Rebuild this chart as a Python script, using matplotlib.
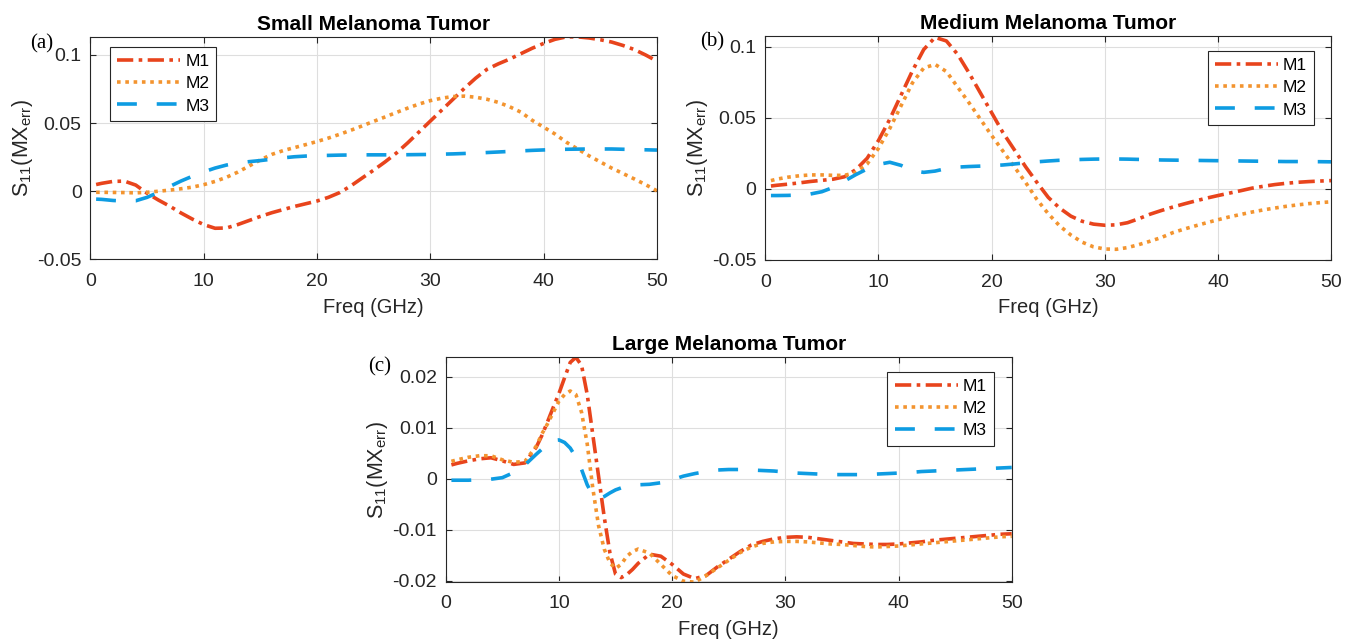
import numpy as np
import matplotlib
matplotlib.use('Agg')
import matplotlib.pyplot as plt
from matplotlib.ticker import FuncFormatter

plt.rcParams['font.family'] = ['Liberation Sans', 'DejaVu Sans']
plt.rcParams['mathtext.fontset'] = 'custom'
plt.rcParams['mathtext.rm'] = 'Liberation Sans'
plt.rcParams['mathtext.it'] = 'Liberation Sans'

# frequency points (GHz)
freq_ab = [0.5] + list(range(1, 51))
freq_c = [0.5, 1, 2, 3, 4, 5, 6, 7, 8, 8.5, 9, 9.5, 10, 10.5, 11, 11.5, 12, 12.5,
          13, 13.5, 14, 14.5, 15, 15.5, 16, 16.5] + list(range(17, 51))

# (a) small tumor
small_m1 = [0.0049, 0.0058, 0.0072, 0.0074, 0.0045, -0.0015, -0.0065, -0.011, -0.016, -0.0205,
            -0.0245, -0.0272, -0.027, -0.0245, -0.0215, -0.0185, -0.0158, -0.0135, -0.0112, -0.0092,
            -0.0072, -0.0045, -0.001, 0.004, 0.0098, 0.0155, 0.0215, 0.028, 0.0355, 0.0435,
            0.0515, 0.0595, 0.0675, 0.0755, 0.083, 0.0895, 0.0935, 0.097, 0.101, 0.105,
            0.1085, 0.1115, 0.1133, 0.1133, 0.1125, 0.1112, 0.1095, 0.107, 0.104, 0.1, 0.0955]
small_m2 = [-0.0008, -0.0008, -0.0009, -0.001, -0.0012, -0.0008, 0.0, 0.0008, 0.0018, 0.003,
            0.0048, 0.0072, 0.0102, 0.014, 0.0185, 0.023, 0.027, 0.0298, 0.032, 0.0342,
            0.0365, 0.039, 0.0418, 0.0448, 0.048, 0.0513, 0.0545, 0.0578, 0.061, 0.064,
            0.0665, 0.0683, 0.0695, 0.0698, 0.069, 0.0675, 0.0652, 0.062, 0.058, 0.052,
            0.047, 0.042, 0.036, 0.031, 0.026, 0.0215, 0.017, 0.013, 0.009, 0.0048, 0.0003]
small_m3 = [-0.0058, -0.006, -0.0068, -0.0072, -0.007, -0.0045, -0.0008, 0.0035, 0.0075, 0.011,
            0.0142, 0.017, 0.0192, 0.0207, 0.0217, 0.0225, 0.0235, 0.0245, 0.0253, 0.0258,
            0.0262, 0.0263, 0.0265, 0.0266, 0.0267, 0.0267, 0.0267, 0.0267, 0.0268, 0.0269,
            0.027, 0.0272, 0.0274, 0.0277, 0.028, 0.0284, 0.0288, 0.0292, 0.0296, 0.03,
            0.0303, 0.0306, 0.0308, 0.0309, 0.031, 0.031, 0.031, 0.0308, 0.0306, 0.0304, 0.0302]

# (b) medium tumor
medium_m1 = [0.002, 0.0025, 0.0033, 0.0042, 0.0052, 0.006, 0.0068, 0.0085, 0.0135, 0.0215,
             0.034, 0.049, 0.066, 0.083, 0.098, 0.1065, 0.104, 0.0945, 0.0815, 0.0675,
             0.0535, 0.0395, 0.0275, 0.0155, 0.0045, -0.006, -0.0135, -0.0192, -0.0228, -0.0248,
             -0.0256, -0.0253, -0.0238, -0.021, -0.0178, -0.0152, -0.0128, -0.0106, -0.0085, -0.0065,
             -0.0047, -0.003, -0.0013, 0.0005, 0.0018, 0.003, 0.0039, 0.0046, 0.0051, 0.0055, 0.0058]
medium_m2 = [0.0058, 0.0068, 0.0082, 0.0092, 0.0098, 0.0098, 0.0095, 0.0095, 0.0115, 0.0175,
             0.0285, 0.0425, 0.0585, 0.0745, 0.085, 0.0875, 0.0825, 0.0715, 0.0605, 0.049,
             0.0375, 0.0265, 0.0155, 0.0045, -0.0075, -0.0175, -0.026, -0.0325, -0.0375, -0.0408,
             -0.0423, -0.0425, -0.0413, -0.0392, -0.0368, -0.0342, -0.0308, -0.0283, -0.026, -0.0238,
             -0.0217, -0.0197, -0.018, -0.0163, -0.0148, -0.0135, -0.0123, -0.0113, -0.0104, -0.0097, -0.0091]
medium_m3 = [-0.0047, -0.0047, -0.0046, -0.0043, -0.0036, -0.002, 0.001, 0.0055, 0.01, 0.014,
             0.0172, 0.0187, 0.0165, 0.0128, 0.0116, 0.0125, 0.0143, 0.0153, 0.0157, 0.016,
             0.0163, 0.0168, 0.0175, 0.0183, 0.019, 0.0196, 0.0201, 0.0204, 0.0207, 0.0209,
             0.021, 0.021, 0.0209, 0.0207, 0.0205, 0.0203, 0.0202, 0.0201, 0.02, 0.0199,
             0.0198, 0.0197, 0.0196, 0.0195, 0.0194, 0.0193, 0.0192, 0.0192, 0.0191, 0.0191, 0.019]

# (c) large tumor
large_m1 = [0.0027, 0.003, 0.0035, 0.0039, 0.0041, 0.0035, 0.0028, 0.0031, 0.0062, 0.0085,
            0.0112, 0.014, 0.0167, 0.0198, 0.0228, 0.0238, 0.0222, 0.0165, 0.0085, 0.0005,
            -0.0075, -0.0145, -0.0187, -0.0194, -0.0188, -0.0178, -0.0166, -0.0148, -0.0152, -0.0168,
            -0.0187, -0.0196, -0.019, -0.0173, -0.0158, -0.0143, -0.013, -0.0123, -0.0118, -0.0115,
            -0.0114, -0.0115, -0.0118, -0.0121, -0.0124, -0.0127, -0.0128, -0.0129, -0.0129, -0.0128,
            -0.0126, -0.0124, -0.0121, -0.0119, -0.0117, -0.0115, -0.0113, -0.0111, -0.0109, -0.0108]
large_m2 = [0.0034, 0.0037, 0.0042, 0.0045, 0.0045, 0.0037, 0.0032, 0.0034, 0.0064, 0.0088,
            0.0108, 0.013, 0.0152, 0.0165, 0.0172, 0.0165, 0.013, 0.0068, -0.002, -0.0092,
            -0.0138, -0.0165, -0.0176, -0.0168, -0.0152, -0.0143, -0.0138, -0.0146, -0.0168, -0.019,
            -0.0201, -0.0203, -0.019, -0.0175, -0.016, -0.0145, -0.0134, -0.0127, -0.0124, -0.0123,
            -0.0123, -0.0124, -0.0126, -0.0128, -0.0129, -0.0131, -0.0133, -0.0134, -0.0133, -0.0132,
            -0.013, -0.0128, -0.0126, -0.0124, -0.0122, -0.012, -0.0118, -0.0116, -0.0114, -0.0113]
large_m3 = [-0.0003, -0.0003, -0.0003, -0.0002, -0.0001, 0.0002, 0.0012, 0.0027, 0.0048, 0.0058,
            0.0068, 0.0075, 0.0076, 0.0071, 0.006, 0.0042, 0.0018, -0.0012, -0.0033, -0.0039,
            -0.0035, -0.0028, -0.0022, -0.0018, -0.0015, -0.0013, -0.0012, -0.0011, -0.0008, -0.0002,
            0.0005, 0.001, 0.0014, 0.0017, 0.0018, 0.0018, 0.0017, 0.0016, 0.0015, 0.0013,
            0.0011, 0.001, 0.0009, 0.0008, 0.0008, 0.0008, 0.0008, 0.0009, 0.001, 0.0011,
            0.0012, 0.0014, 0.0015, 0.0016, 0.0017, 0.0018, 0.0019, 0.002, 0.0021, 0.0022]

labels = ['M1', 'M2', 'M3']
colors = ['#E8441C', '#F3942F', '#0E9CE2']
dashes = [(4.5, 1.5, 1, 1.5), (1, 1.3), (5.5, 5.5)]


def draw_panel(fig, rect, freq, series, title, tag, tag_pos, ylim, yticks, legend_anchor, legend_loc):
    ax = fig.add_axes(rect)
    for vals, lab, col, dsh in zip(series, labels, colors, dashes):
        ax.plot(freq, vals, color=col, lw=2.6, dashes=dsh, label=lab)
    ax.set_xlim(0, 50)
    ax.set_ylim(*ylim)
    ax.set_xticks(range(0, 51, 10))
    ax.set_yticks(yticks)
    ax.yaxis.set_major_formatter(FuncFormatter(lambda v, p: '{:g}'.format(round(v, 4))))
    ax.grid(True, color='#dedede', lw=0.8)
    ax.set_axisbelow(True)
    ax.tick_params(direction='in', top=True, right=True, length=4, width=0.8,
                   labelsize=14, colors='#262626', pad=6.3)
    ax.tick_params(axis='x', pad=9.8)
    for sp in ax.spines.values():
        sp.set_color('#262626')
        sp.set_linewidth(0.8)
    ax.set_xlabel('Freq (GHz)', fontsize=14.5, color='#262626', labelpad=5.5)
    ax.set_ylabel(r'S$_{11}$(MX$_{\mathrm{err}}$)', fontsize=15.5, color='#262626', labelpad=1.5)
    ax.set_title(title, fontsize=15, fontweight='bold', pad=5)
    ax.text(tag_pos[0], tag_pos[1], tag, transform=ax.transAxes, fontsize=15,
            family='Liberation Serif', ha='left', va='center')
    leg = ax.legend(loc=legend_loc, bbox_to_anchor=legend_anchor, borderaxespad=0,
                    fontsize=12.5, handlelength=3.65, handletextpad=0.29, labelspacing=0.41,
                    borderpad=0.41, fancybox=False, framealpha=1)
    leg.get_frame().set_edgecolor('#262626')
    leg.get_frame().set_linewidth(0.8)
    return ax


fig = plt.figure(figsize=(13.54, 6.4), dpi=100)
draw_panel(fig, [0.0668, 0.5948, 0.4184, 0.3478], freq_ab, [small_m1, small_m2, small_m3],
           'Small Melanoma Tumor', '(a)', (-0.107, 0.970), (-0.05, 0.1134), [-0.05, 0, 0.05, 0.1],
           (0.034, 0.955), 'upper left')
draw_panel(fig, [0.5652, 0.5938, 0.418, 0.35], freq_ab, [medium_m1, medium_m2, medium_m3],
           'Medium Melanoma Tumor', '(b)', (-0.115, 0.975), (-0.05, 0.1075), [-0.05, 0, 0.05, 0.1],
           (0.970, 0.934), 'upper right')
draw_panel(fig, [0.3292, 0.0911, 0.418, 0.3506], freq_c, [large_m1, large_m2, large_m3],
           'Large Melanoma Tumor', '(c)', (-0.137, 0.958), (-0.0202, 0.0238),
           [-0.02, -0.01, 0, 0.01, 0.02], (0.969, 0.936), 'upper right')
fig.savefig('out.png', dpi=100)
